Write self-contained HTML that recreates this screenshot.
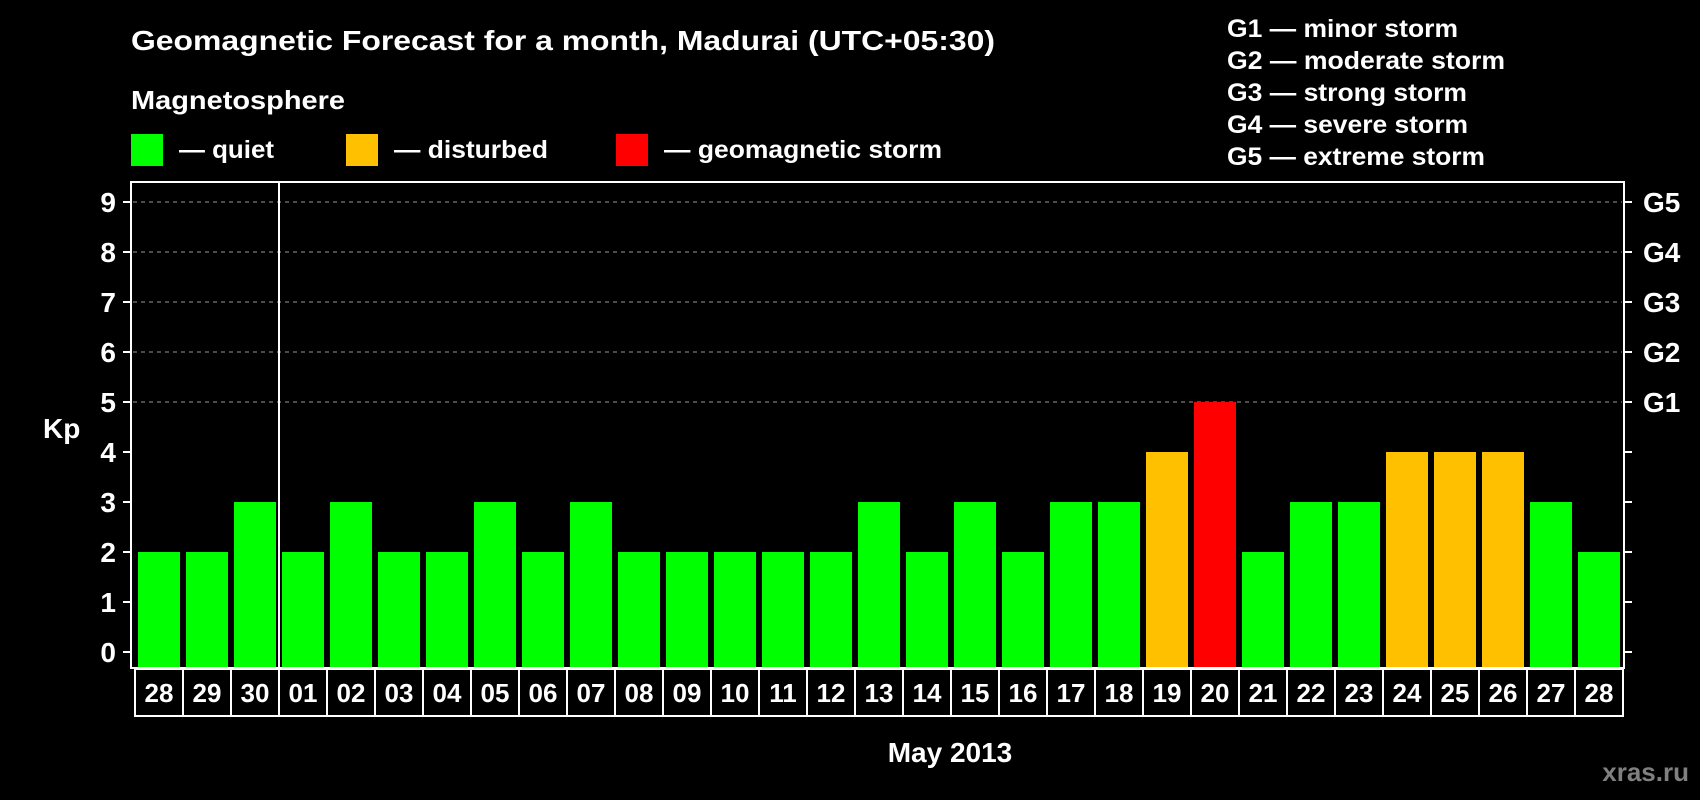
<!DOCTYPE html>
<html><head><meta charset="utf-8"><style>
html,body{margin:0;padding:0;background:#000;}
svg{display:block;font-family:"Liberation Sans",Arial,sans-serif;font-weight:bold;}
</style></head><body>
<svg id="chart" width="1700" height="800" viewBox="0 0 1700 800" xmlns="http://www.w3.org/2000/svg">
<rect width="1700" height="800" fill="#000"/>
<text x="131" y="50" fill="#fff" font-size="28" textLength="864" lengthAdjust="spacingAndGlyphs">Geomagnetic Forecast for a month, Madurai (UTC+05:30)</text>
<text x="131" y="109" fill="#fff" font-size="26" textLength="214" lengthAdjust="spacingAndGlyphs">Magnetosphere</text>
<g><rect x="131" y="134" width="32" height="32" fill="#00ff00"/><text x="179" y="158" fill="#fff" font-size="25" textLength="95" lengthAdjust="spacingAndGlyphs">— quiet</text></g>
<g><rect x="346" y="134" width="32" height="32" fill="#ffc000"/><text x="394" y="158" fill="#fff" font-size="25" textLength="154" lengthAdjust="spacingAndGlyphs">— disturbed</text></g>
<g><rect x="616" y="134" width="32" height="32" fill="#ff0000"/><text x="664" y="158" fill="#fff" font-size="25" textLength="278" lengthAdjust="spacingAndGlyphs">— geomagnetic storm</text></g>
<g fill="#fff" font-size="25">
<text x="1227" y="37" textLength="231" lengthAdjust="spacingAndGlyphs">G1 — minor storm</text>
<text x="1227" y="69" textLength="278" lengthAdjust="spacingAndGlyphs">G2 — moderate storm</text>
<text x="1227" y="101" textLength="240" lengthAdjust="spacingAndGlyphs">G3 — strong storm</text>
<text x="1227" y="133" textLength="241" lengthAdjust="spacingAndGlyphs">G4 — severe storm</text>
<text x="1227" y="165" textLength="258" lengthAdjust="spacingAndGlyphs">G5 — extreme storm</text>
</g>
<g id="grid"></g>
<g id="bars"></g>
<rect x="131" y="182" width="1493" height="486" fill="none" stroke="#fff" stroke-width="2"/>
<g id="axes"></g>
<g id="dates"></g>
<text x="43" y="438" fill="#fff" font-size="28">Kp</text>
<text x="950" y="762" fill="#fff" font-size="28" text-anchor="middle">May 2013</text>
<text x="1689" y="781" fill="#808080" font-size="26" text-anchor="end">xras.ru</text>
</svg>
<script>
const dates = ["28","29","30","01","02","03","04","05","06","07","08","09","10","11","12","13","14","15","16","17","18","19","20","21","22","23","24","25","26","27","28"];
const kpValues = [2,2,3,2,3,2,2,3,2,3,2,2,2,2,2,3,2,3,2,3,3,4,5,2,3,3,4,4,4,3,2];
const yTicks = [0,1,2,3,4,5,6,7,8,9];
const gLabels = ["","","","","","G1","G2","G3","G4","G5"];
const NS="http://www.w3.org/2000/svg";
const x0=134, step=48, barW=42, y0=652, unit=50;
const yS=v=>y0-v*unit;
const xS=i=>x0+i*step;
function mk(tag,attrs,parent){const e=document.createElementNS(NS,tag);for(const k in attrs)e.setAttribute(k,attrs[k]);parent.appendChild(e);return e;}
const grid=document.getElementById('grid'),bars=document.getElementById('bars'),axes=document.getElementById('axes'),dg=document.getElementById('dates');
yTicks.forEach(v=>{
  const y=yS(v);
  if(v>=5){const l=mk('line',{x1:133,x2:1622,y1:y,y2:y,stroke:'#999','stroke-dasharray':'4,4','stroke-width':1},grid);
    
    }
  const t1=mk('line',{x1:123,x2:131,y1:y,y2:y,stroke:'#fff','stroke-width':2},axes);
  
  
  const t2=mk('line',{x1:1624,x2:1632,y1:y,y2:y,stroke:'#fff','stroke-width':2},axes);
  
  
  const lb=mk('text',{x:116,y:y+10,fill:'#fff','font-size':28,'text-anchor':'end'},axes);lb.textContent=v;
  
  
  if(gLabels[v]){const g=mk('text',{x:1643,y:y+10,fill:'#fff','font-size':28},axes);g.textContent=gLabels[v];
    
    }
});
kpValues.forEach((v,i)=>{
  const c=v>=5?'#ff0000':(v>=4?'#ffc000':'#00ff00');
  const r=mk('rect',{x:xS(i)+4,y:yS(v),width:barW,height:668-yS(v),fill:c},bars);
  
  
});
const sep=mk('line',{x1:xS(3)+1,x2:xS(3)+1,y1:182,y2:668,stroke:'#fff','stroke-width':2},axes);


dates.forEach((d,i)=>{
  const r=mk('rect',{x:xS(i)+1,y:669,width:step,height:47,fill:'none',stroke:'#fff','stroke-width':2},dg);
  
  
  const t=mk('text',{x:xS(i)+1+step/2,y:702,fill:'#fff','font-size':26,'text-anchor':'middle'},dg);t.textContent=d;
  
  
});
</script>
</body></html>
